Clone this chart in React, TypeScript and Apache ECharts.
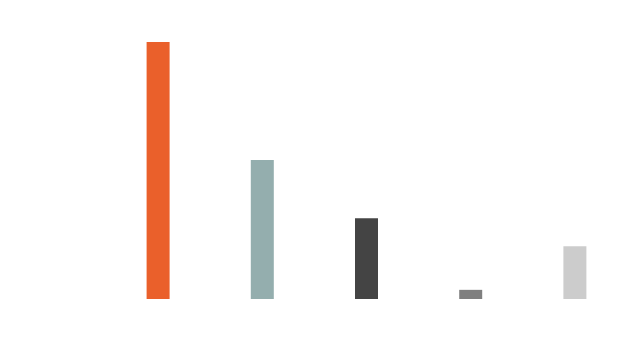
import React, { useEffect, useRef } from "react";
import * as echarts from "echarts";

const categories = ["A", "B", "C", "D", "E"];
const values = [47.7, 25.8, 15.0, 1.7, 9.8];
const colors = ["#EA602B", "#94AEAE", "#444444", "#7F7F7F", "#CCCCCC"];

export default function App() {
  const ref = useRef<HTMLDivElement>(null);
  useEffect(() => {
    if (!ref.current) return;
    const chart = echarts.init(ref.current, undefined, { renderer: "svg" });
    chart.setOption({
      animation: false,
      backgroundColor: "#ffffff",
      grid: { left: 106, right: 4, top: 42, bottom: 57 },
      xAxis: {
        type: "category",
        data: categories,
        show: false,
      },
      yAxis: {
        type: "value",
        min: 0,
        max: "dataMax",
        show: false,
      },
      series: [
        {
          type: "bar",
          barWidth: 23,
          data: values.map((v, i) => ({ value: v, itemStyle: { color: colors[i] } })),
        },
      ],
    });
    return () => chart.dispose();
  }, []);
  return (
    <div
      ref={ref}
      style={{ position: "fixed", left: 0, top: 0, width: 631, height: 356 }}
    />
  );
}
